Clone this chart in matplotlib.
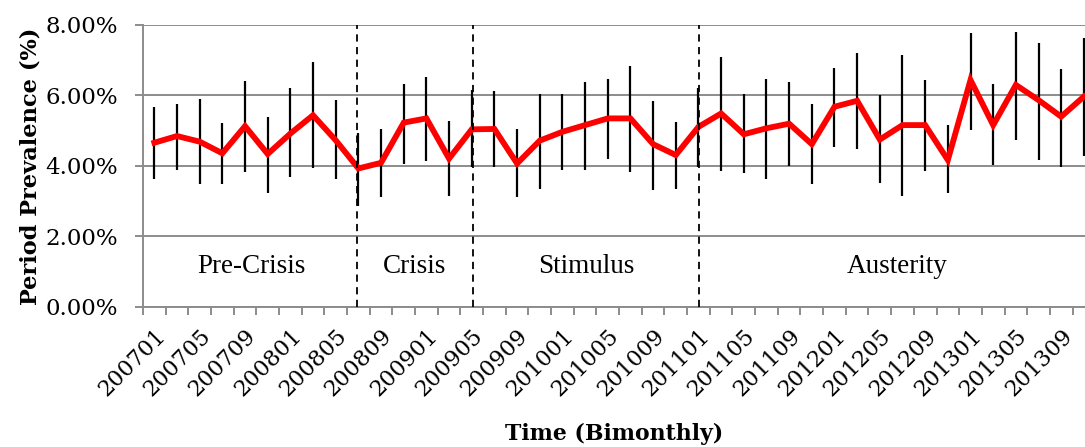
import matplotlib.pyplot as plt
from matplotlib.ticker import FuncFormatter, FixedLocator

# Bimonthly periods 2007-01 .. 2013-11
periods = [f"{y}{m:02d}" for y in range(2007, 2014) for m in range(1, 13, 2)]

# Period prevalence (%) and error-bar ends
prevalence = [4.66, 4.85, 4.69, 4.36, 5.13, 4.34, 4.92, 5.44, 4.73, 3.93,
              4.09, 5.23, 5.35, 4.21, 5.04, 5.05, 4.07, 4.72, 4.97, 5.16,
              5.35, 5.35, 4.62, 4.31, 5.11, 5.49, 4.90, 5.07, 5.20, 4.62,
              5.68, 5.85, 4.75, 5.16, 5.16, 4.17, 6.44, 5.16, 6.30, 5.87,
              5.40, 5.97]
upper = [5.68, 5.75, 5.90, 5.21, 6.41, 5.39, 6.20, 6.94, 5.87, 4.95,
         5.06, 6.33, 6.52, 5.27, 6.16, 6.13, 5.04, 6.03, 6.04, 6.38,
         6.47, 6.83, 5.84, 5.26, 6.20, 7.08, 6.03, 6.46, 6.37, 5.77,
         6.78, 7.21, 6.00, 7.14, 6.44, 5.17, 7.77, 6.33, 7.79, 7.50,
         6.74, 7.62]
lower = [3.63, 3.88, 3.48, 3.50, 3.83, 3.22, 3.68, 3.93, 3.63, 2.87,
         3.13, 4.07, 4.14, 3.14, 3.98, 3.98, 3.13, 3.36, 3.88, 3.89,
         4.19, 3.83, 3.32, 3.35, 3.98, 3.86, 3.79, 3.64, 4.00, 3.49,
         4.53, 4.48, 3.53, 3.14, 3.86, 3.24, 5.03, 4.03, 4.73, 4.18,
         3.98, 4.28]

# Phase boundaries (category index) and label positions
phase_breaks = [8.95, 14.05, 24.03]
phase_names = ["Pre-Crisis", "Crisis", "Stimulus", "Austerity"]
phase_label_x = [4.28, 11.47, 19.06, 32.76]

grey = "#8c8c8c"

fig = plt.figure(figsize=(10.85, 4.47), dpi=100)
ax = fig.add_axes([0.1318, 0.3132, 0.8682, 0.6309])

x = list(range(len(periods)))
yerr = [[p - lo for p, lo in zip(prevalence, lower)],
        [up - p for p, up in zip(prevalence, upper)]]

ax.errorbar(x, prevalence, yerr=yerr, fmt="none", ecolor="black",
            elinewidth=1.6, capsize=0, zorder=3)
ax.plot(x, prevalence, color="#ff0000", linewidth=4.2, zorder=4,
        solid_joinstyle="miter")

for b in phase_breaks:
    ax.axvline(b, color="black", linewidth=1.3, linestyle=(0, (4, 3)), zorder=5)

for name, px in zip(phase_names, phase_label_x):
    ax.text(px, 1.16, name, ha="center", va="center", fontsize=19.5,
            family="Liberation Serif")

ax.set_ylim(0, 8)
ax.set_xlim(-0.5, 41.05)
ax.set_yticks([0, 2, 4, 6, 8])
ax.yaxis.set_major_formatter(FuncFormatter(lambda v, _: f"{v:.2f}%"))
ax.grid(axis="y", color=grey, linewidth=1.4)
ax.set_axisbelow(True)

# ticks between categories, labels every second category
ax.xaxis.set_major_locator(FixedLocator([i - 0.5 for i in range(len(periods) + 1)]))
ax.xaxis.set_major_formatter(FuncFormatter(lambda v, _: ""))
ax.xaxis.set_minor_locator(FixedLocator(x[::2]))
ax.set_xticklabels(periods[::2], minor=True, rotation=45, ha="right",
                   rotation_mode="anchor", fontsize=16, family="DejaVu Serif")
ax.tick_params(axis="x", which="major", length=6, width=1.4, color=grey)
ax.tick_params(axis="x", which="minor", length=0, pad=13)
ax.tick_params(axis="y", length=6, width=1.4, color=grey, labelsize=16.5, pad=12)
for lab in ax.get_yticklabels():
    lab.set_family("DejaVu Serif")

for side in ["top", "right"]:
    ax.spines[side].set_visible(False)
for side in ["left", "bottom"]:
    ax.spines[side].set_color(grey)
    ax.spines[side].set_linewidth(1.4)

ax.set_ylabel("Period Prevalence (%)", fontsize=16.2, fontweight="bold",
              family="DejaVu Serif", labelpad=3)
ax.set_xlabel("Time (Bimonthly)", fontsize=15.8, fontweight="bold",
              family="DejaVu Serif", labelpad=16)

fig.savefig("out.png", dpi=100)
